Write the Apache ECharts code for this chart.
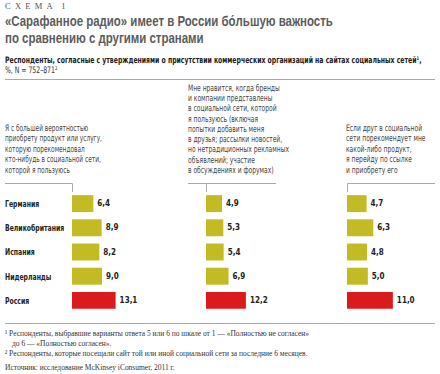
<!DOCTYPE html>
<html><head><meta charset="utf-8">
<script src="https://cdn.jsdelivr.net/npm/echarts@6/dist/echarts.min.js"></script>
<style>html,body{margin:0;padding:0;background:#fff}#c{width:440px;height:374px}</style>
</head><body><div id="c"></div>
<script>
const countries = ['Германия','Великобритания','Испания','Нидерланды','Россия'];
const seriesA = [6.4, 8.9, 8.2, 9.0, 13.1];
const seriesB = [4.9, 5.3, 5.4, 6.9, 12.2];
const seriesC = [4.7, 6.3, 4.8, 5.0, 11.0];
const noteA = ['Я с большей вероятностью','приобрету продукт или услугу,','которую порекомендовал','кто-нибудь в социальной сети,','которой я пользуюсь'];
const noteB = ['Мне нравится, когда бренды','и компании представлены','в социальной сети, которой','я пользуюсь (включая','попытки добавить меня','в друзья; рассылки новостей,','но нетрадиционных рекламных','объявлений; участие','в обсуждениях и форумах)'];
const noteC = ['Если друг в социальной','сети порекомендует мне','какой-либо продукт,','я перейду по ссылке','и приобрету его'];

const NARROW = "'Liberation Sans Narrow','DejaVu Sans Condensed',sans-serif";
const SANS = "'Liberation Sans',Arial,sans-serif";
const SERIF = "'Liberation Serif','DejaVu Serif',serif";
const OLIVE = '#c3bb24', RED = '#db1a1c';

const chart = echarts.init(document.getElementById('c'), null, {renderer:'svg'});

const panels = [
  {data: seriesA, left: 72, width: 66.6, max: 20},
  {data: seriesB, left: 206, width: 65.4, max: 20},
  {data: seriesC, left: 347, width: 83.4, max: 20}
];
const TOP = 191.5, H = 121;

const grids = [], xAxes = [], yAxes = [], series = [];
panels.forEach((p, i) => {
  grids.push({left: p.left, top: TOP, width: p.width, height: H});
  xAxes.push({gridIndex: i, type: 'value', min: 0, max: p.max, show: false});
  yAxes.push({gridIndex: i, type: 'category', data: countries, inverse: true,
    axisLine: {show: false}, axisTick: {show: false}, splitLine: {show: false},
    axisLabel: {show: false}});
  series.push({type: 'bar', xAxisIndex: i, yAxisIndex: i, barCategoryGap: '30%',
    data: p.data.map((v, k) => ({value: v, itemStyle: {color: k === p.data.length - 1 ? RED : OLIVE}})),
    label: {show: true, position: 'right', distance: 4, fontFamily: NARROW, fontWeight: 'bold', fontSize: 8, color: '#222',
      formatter: d => d.value.toFixed(1).replace('.', ',')},
    silent: true, animation: false});
});
chart.setOption({animation: false, grid: grids, xAxis: xAxes, yAxis: yAxes, series: series});

const g = [];
function txt(x, y, s, font, size, color, weight, sx) {
  g.push({type: 'text', x: x, y: y, scaleX: sx || 1, silent: true, style: {text: s, fontFamily: font, fontSize: size, fill: color, fontWeight: weight || 'normal', verticalAlign: 'middle', align: 'left'}});
}
function line(x1, y1, x2, y2, c) {
  g.push({type: 'line', silent: true, shape: {x1: x1, y1: y1, x2: x2, y2: y2}, style: {stroke: c || '#aaa', lineWidth: 1}});
}
txt(5, 6, 'С  Х  Е  М  А    1', SERIF, 8.5, '#555');
txt(5, 21, '«Сарафанное радио» имеет в России бо́льшую важность', SANS, 14.5, '#5c5c5c', 'bold', 0.79);
txt(5, 38, 'по сравнению с другими странами', SANS, 14.5, '#5c5c5c', 'bold', 0.79);
txt(5, 60, 'Респонденты, согласные с утверждениями о присутствии коммерческих организаций на сайтах социальных сетей¹,', NARROW, 9, '#222', 'bold', 0.76);
txt(5, 70, '%, N = 752–871²', NARROW, 9, '#333', 'normal', 0.76);
line(5, 79.5, 435, 79.5);

noteA.forEach((s, k) => txt(5, 128 + k * 10.5, s, NARROW, 9, '#444', 'normal', 0.72));
noteB.forEach((s, k) => txt(188, 88 + k * 10.25, s, NARROW, 9, '#444', 'normal', 0.74));
noteC.forEach((s, k) => txt(346, 128 + k * 10.5, s, NARROW, 9, '#444', 'normal', 0.74));
line(5, 183.5, 72.5, 183.5); line(72.5, 183.5, 72.5, 192);
line(188, 183.5, 276, 183.5); line(206.5, 183.5, 206.5, 192);
line(347.5, 183.5, 435, 183.5); line(347.5, 183.5, 347.5, 192);

countries.forEach(c => {
  const y = chart.convertToPixel({yAxisIndex: 0}, c);
  txt(5, y, c, NARROW, 9.5, '#222', 'bold', 0.72);
});

line(5, 323.5, 435, 323.5);
txt(5, 333, '¹ Респонденты, выбравшие варианты ответа 5 или 6 по шкале от 1 — «Полностью не согласен»', SERIF, 8.5, '#333', 'normal', 0.88);
txt(12, 343, 'до 6 — «Полностью согласен».', SERIF, 8.5, '#333', 'normal', 0.88);
txt(5, 353, '² Респонденты, которые посещали сайт той или иной социальной сети за последние 6 месяцев.', SERIF, 8.5, '#333', 'normal', 0.88);
txt(5, 367, 'Источник: исследование McKinsey iConsumer, 2011 г.', SERIF, 8.5, '#333', 'normal', 0.88);

chart.setOption({graphic: g});
</script></body></html>
